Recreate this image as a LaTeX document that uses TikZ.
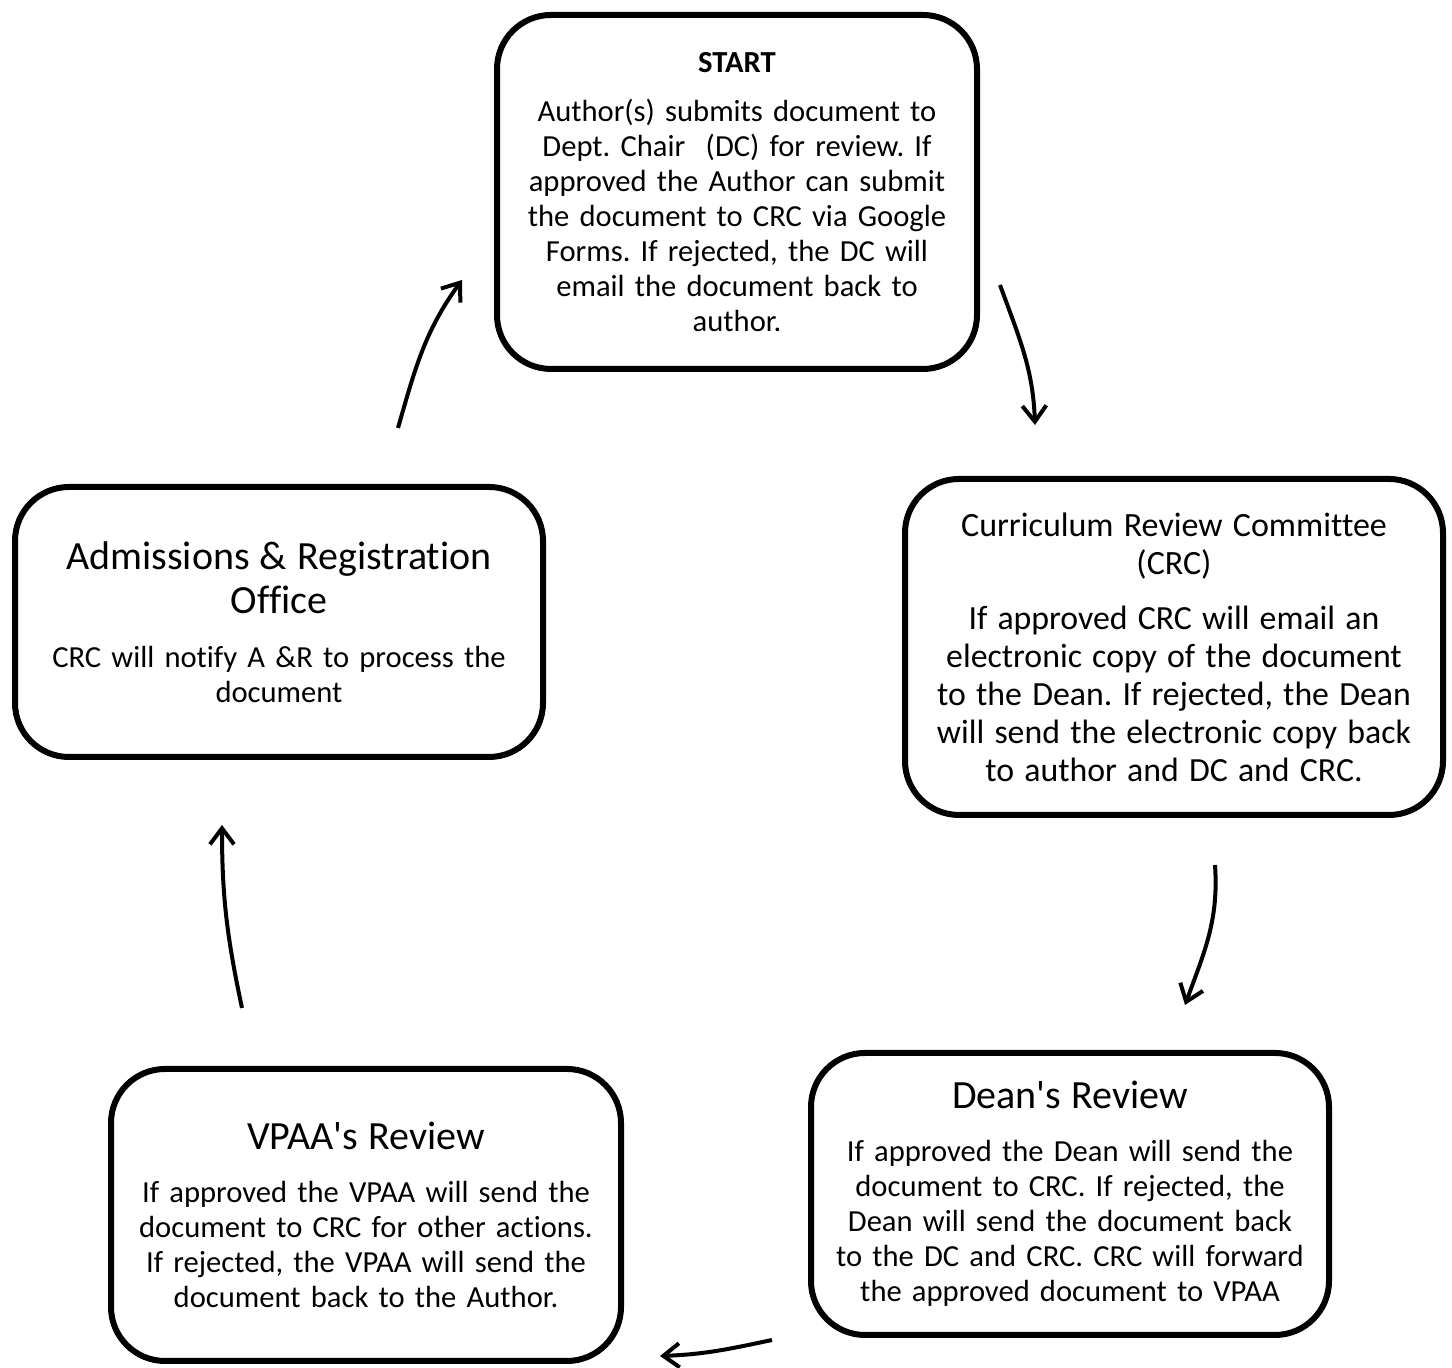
\documentclass[tikz,border=0pt]{standalone}
\usepackage{fontspec}
\setmainfont{Carlito}[Ligatures={NoCommon,NoContextual}]
\usetikzlibrary{arrows.meta}

\newcommand{\bodytext}{\fontsize{15.3}{17.5}\selectfont}
\newcommand{\headtext}{\fontsize{20}{22}\selectfont}
\frenchspacing

\begin{document}
\begin{tikzpicture}[x=0.5pt, y=0.5pt,
  stage/.style={draw, line width=3pt, rounded corners=27pt, align=center,
    inner sep=0pt, font=\bodytext},
  flow/.style={line width=2pt, -{Straight Barb[length=8pt, width=12pt]}}]
\useasboundingbox (0,0) rectangle (1452,1368);
% stages
\node[stage, minimum width=240pt, minimum height=177pt, text width=230pt] (start) at (737,1176)
  {\textbf{START}\par\vspace{7pt}
   Author(s) submits document to\\ Dept. Chair~~(DC) for review. If\\ approved the Author can submit\\
   the document to CRC via Google\\ Forms. If rejected, the DC will\\ email the document back to\\ author.};
\node[stage, minimum width=269pt, minimum height=168pt, text width=262pt] (crc) at (1174,721)
  {{\fontsize{17}{19}\selectfont Curriculum Review Committee\\ (CRC)\par}\vspace{8.5pt}
   {\fontsize{16.9}{19}\selectfont If approved CRC will email an\\ electronic copy of the document\\
   to the Dean. If rejected, the Dean\\ will send the electronic copy back\\ to author and DC and CRC.\par}};
\node[stage, minimum width=259pt, minimum height=141pt, text width=252pt] (dean) at (1070,174)
  {{\headtext Dean\textquotesingle s Review\par}\vspace{9pt}
   If approved the Dean will send the\\ document to CRC. If rejected, the\\ Dean will send the document back\\
   to the DC and CRC. CRC will forward\\ the approved document to VPAA};
\node[stage, minimum width=255pt, minimum height=146pt, text width=248pt] (vpaa) at (366,153)
  {{\headtext VPAA\textquotesingle s Review\par}\vspace{9pt}
   If approved the VPAA will send the\\ document to CRC for other actions.\\
   If rejected, the VPAA will send the\\ document back to the Author.};
\node[stage, minimum width=264pt, minimum height=135pt, text width=256pt] (ar) at (279,746)
  {{\headtext Admissions \& Registration\\ Office\par}\vspace{9.5pt}
   CRC will notify A \&R to process the\\ document};
% arrow ends
\coordinate (startout) at (1000,1083);
\coordinate (crcin) at (1035,943);
\coordinate (crcout) at (1215,503);
\coordinate (deanin) at (1185,363);
\coordinate (deanout) at (772,28);
\coordinate (vpaain) at (660,12);
\coordinate (vpaaout) at (242,360);
\coordinate (arin) at (222,543);
\coordinate (arout) at (398,940);
\coordinate (startin) at (462,1088);
% cycle
\draw[flow] (startout) to[out=-70, in=92] (crcin);
\draw[flow] (crcout) to[out=-86, in=70] (deanin);
\draw[flow] (deanout) to[out=192, in=2] (vpaain);
\draw[flow] (vpaaout) to[out=102, in=-90] (arin);
\draw[flow] (arout) to[out=74, in=-126] (startin);
\end{tikzpicture}
\end{document}
